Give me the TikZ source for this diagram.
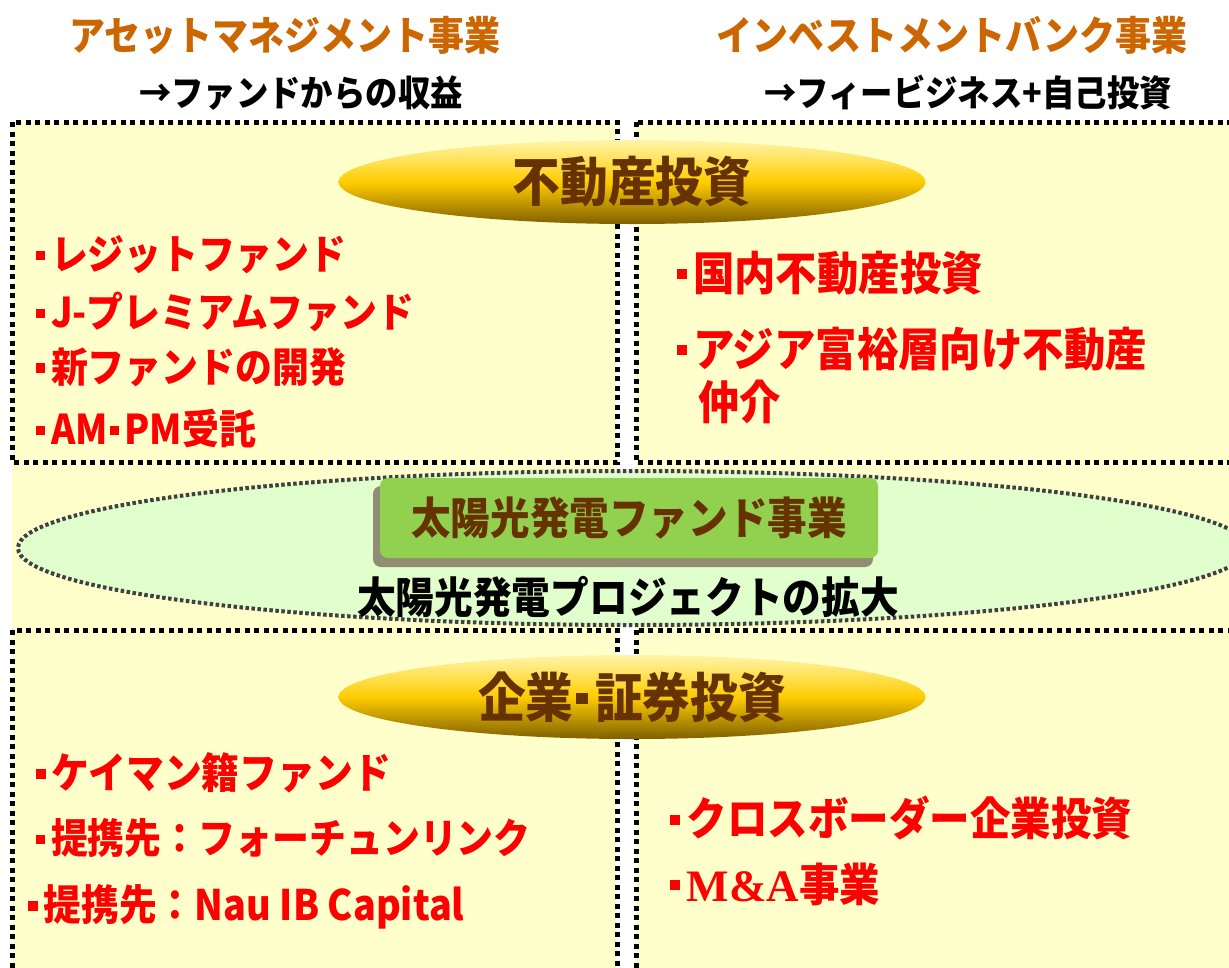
\documentclass[tikz,border=0pt]{standalone}
\usepackage{fontspec}
\setmainfont{Liberation Serif}
\newfontfamily\jpfont[FakeStretch=0.9]{Noto Sans CJK JP}
\usetikzlibrary{positioning, shapes.geometric}
\definecolor{headorange}{RGB}{204,102,0}
\definecolor{boxyellow}{RGB}{255,255,204}
\definecolor{darkbrown}{RGB}{102,51,0}
\definecolor{solargreen}{RGB}{146,208,80}
\definecolor{palegreen}{RGB}{221,255,204}
\definecolor{goldtop}{RGB}{255,245,170}
\definecolor{goldmid}{RGB}{255,204,0}
\definecolor{goldbot}{RGB}{128,96,0}
\newcommand{\dotmark}{\hspace{0.05em}\raisebox{0.24em}{\rule{0.22em}{0.22em}}\hspace{0.14em}}

\begin{document}
\begin{tikzpicture}[
        x=1pt, y=-1pt,
        every node/.style={inner sep=0pt, font=\jpfont\bfseries},
        head/.style={text=headorange, font=\jpfont\bfseries\fontsize{40}{44}\selectfont},
        sub/.style={text=black, font=\jpfont\bfseries\fontsize{36}{40}\selectfont},
        item/.style={anchor=west, text=red, font=\jpfont\bfseries\fontsize{41}{44}\selectfont},
        bigitem/.style={item, font=\jpfont\bfseries\fontsize{46}{48}\selectfont},
        area/.style={line width=5pt, dash pattern=on 5pt off 4.5pt},
        gold/.style={ellipse, minimum width=587pt, minimum height=84pt,
            top color=goldtop, bottom color=goldbot, middle color=goldmid,
            text=darkbrown, font=\jpfont\bfseries\fontsize{53}{56}\selectfont}]
        \useasboundingbox (0,0) rectangle (1229,967);
        \clip (0,0) rectangle (1229,967);
        % Background
        \fill[boxyellow] (12,122) rectangle (617,975);
        \fill[boxyellow] (636,122) rectangle (1240,975);
        % Areas
        \draw[area] (12,122) rectangle (617,462);
        \draw[area] (636,122) rectangle (1240,462);
        \draw[area] (12,630) rectangle (617,975);
        \draw[area] (636,630) rectangle (1240,975);
        % Headings
        \node[head] (am_head) at (285,35) {アセットマネジメント事業};
        \node[head] (ib_head) at (952,35) {インベストメントバンク事業};
        \node[sub] (am_sub) at (301,93) {→ファンドからの収益};
        \node[sub] (ib_sub) at (968,93) {→フィービジネス+自己投資};
        % Real estate
        \node[gold] (real_estate) at (632,182) {不動産投資};
        \node[item] (reit) at (34,255) {\dotmark レジットファンド};
        \node[item] (jprem) at (34,312) {\dotmark J-プレミアムファンド};
        \node[item] (newfund) at (34,367) {\dotmark 新ファンドの開発};
        \node[item] (ampm) at (34,429) {\dotmark AM\dotmark PM受託};
        \node[bigitem] (domestic) at (674,273) {\dotmark 国内不動産投資};
        \node[bigitem] (asia) at (674,349) {\dotmark アジア富裕層向け不動産};
        \node[bigitem] (asia2) at (698,402) {仲介};
        % Solar
        \node[ellipse, draw=black!75, line width=4pt, dash pattern=on 3.5pt off 2.5pt,
            fill=palegreen, fill opacity=0.9, text opacity=1,
            minimum width=1230pt, minimum height=154pt] (solar_area) at (633,548) {};
        \fill[gray!80!olive, rounded corners=8pt] (373,486) rectangle (873,567);
        \node[draw=none, fill=solargreen, rounded corners=8pt, minimum width=498pt,
            minimum height=80pt, text=darkbrown, font=\jpfont\bfseries\fontsize{44}{46}\selectfont]
            (solar_fund) at (629,518) {太陽光発電ファンド事業};
        \node[text=black, font=\jpfont\bfseries\fontsize{43}{46}\selectfont] (solar_proj) at (628,597) {太陽光発電プロジェクトの拡大};
        % Corporate
        \node[gold] (corporate) at (632,697) {企業\dotmark 証券投資};
        \node[item, font=\jpfont\bfseries\fontsize{42}{44}\selectfont] (cayman) at (34,773) {\dotmark ケイマン籍ファンド};
        \node[item, font=\jpfont\bfseries\fontsize{41}{44}\selectfont] (fortune) at (34,838) {\dotmark 提携先：フォーチュンリンク};
        \node[item, font=\jpfont\bfseries\fontsize{42}{44}\selectfont] (nau) at (26,907) {\dotmark 提携先：Nau IB Capital};
        \node[bigitem, font=\jpfont\bfseries\fontsize{45}{46}\selectfont] (crossborder) at (668,818) {\dotmark クロスボーダー企業投資};
        \node[bigitem, font=\jpfont\bfseries\fontsize{45}{46}\selectfont] (manda) at (668,884) {\dotmark{\fontspec{Liberation Serif}M\&A}事業};
      \end{tikzpicture}
\end{document}
